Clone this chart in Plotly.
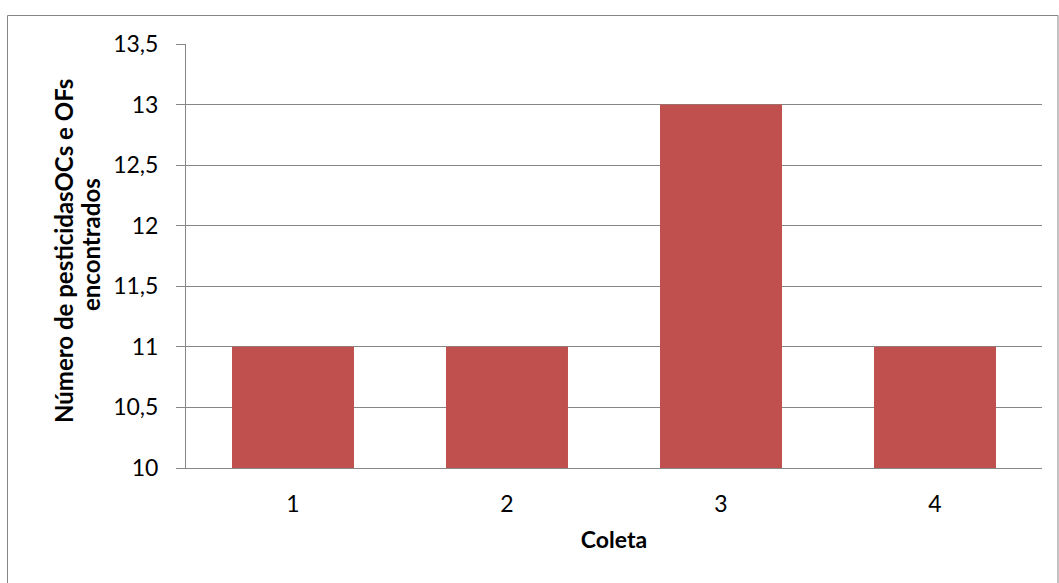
import plotly.graph_objects as go

categories = ["1", "2", "3", "4"]
values = [11, 11, 13, 11]
y_ticks = [10, 10.5, 11, 11.5, 12, 12.5, 13, 13.5]
y_title_lines = ["Número de pesticidasOCs e OFs", "encontrados"]
x_title = "Coleta"

W, H = 1059, 583
L, R, T, B = 186, 17, 44, 115
pw, ph = W - L - R, H - T - B

def px_x(x):
    return (x - L) / pw

def px_y(y):
    return (H - B - y) / ph

grid = "#868686"
font = "Lato, Carlito, Calibri, sans-serif"

fig = go.Figure(go.Bar(x=categories, y=values, marker=dict(color="#C0504D", line=dict(width=0))))

fig.update_layout(
    width=W, height=H,
    margin=dict(l=L, r=R, t=T, b=B),
    paper_bgcolor="white", plot_bgcolor="white",
    separators=",.",
    bargap=0.43,
    showlegend=False,
    font=dict(family=font, size=23, color="black"),
    xaxis=dict(
        type="category", showgrid=False, showline=True, linecolor=grid, linewidth=1,
        ticks="", tickfont=dict(size=23), ticklabelstandoff=15,
        title=dict(text="<b>%s</b>" % x_title, font=dict(size=23), standoff=16),
    ),
    yaxis=dict(
        range=[10, 13.5], tickvals=y_ticks, showgrid=True, gridcolor=grid, gridwidth=1,
        showline=True, linecolor=grid, linewidth=1, ticks="outside", ticklen=9, tickcolor=grid,
        tickfont=dict(size=23), zeroline=False, ticklabelstandoff=13,
    ),
    annotations=[
        dict(text="<b>%s</b>" % y_title_lines[0], xref="paper", yref="paper",
             x=px_x(63), y=px_y(251), xanchor="center", yanchor="middle",
             textangle=-90, showarrow=False, font=dict(size=24)),
        dict(text="<b>%s</b>" % y_title_lines[1], xref="paper", yref="paper",
             x=px_x(90), y=px_y(245), xanchor="center", yanchor="middle",
             textangle=-90, showarrow=False, font=dict(size=24)),
    ],
    shapes=[dict(type="rect", xref="paper", yref="paper",
                 x0=px_x(7.5), x1=px_x(1058), y0=px_y(590), y1=px_y(15.5),
                 line=dict(color=grid, width=1), layer="below")],
)

fig.write_html("out.html")
